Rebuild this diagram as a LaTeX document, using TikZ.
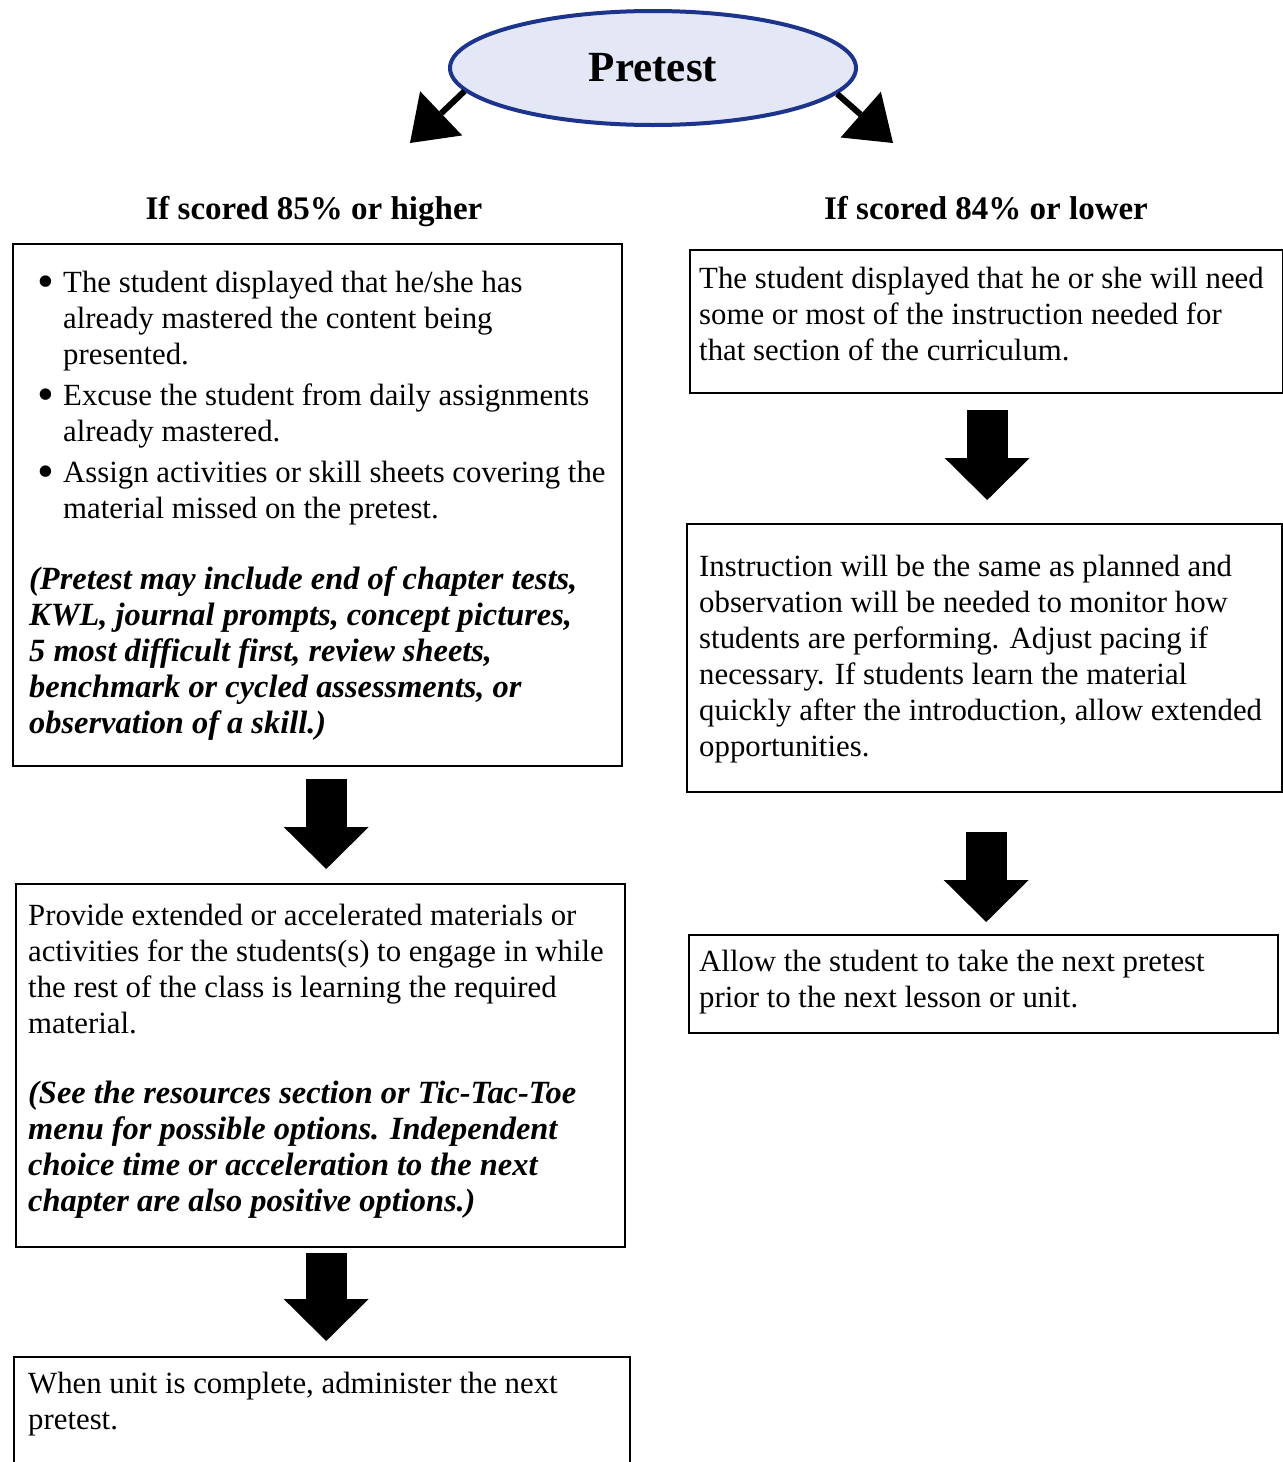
\documentclass[tikz,border=0pt]{standalone}
\usepackage{fontspec}
\setmainfont{Liberation Serif}
\usetikzlibrary{arrows.meta,shapes.geometric,calc}
\definecolor{ellfill}{RGB}{228,231,245}
\definecolor{elldraw}{RGB}{28,52,140}
\newcommand\boxtxt[4]{\parbox[c][#2][t]{#1}{\setlength{\parindent}{0pt}\vspace*{#3}#4}}
\newcommand\bul{\noindent\strut\llap{\raisebox{-2.6pt}{\fontsize{24}{18}\selectfont\textbullet}\hspace{4.5pt}}}
\begin{document}
\begin{tikzpicture}[x=0.5pt,y=-0.5pt,
  panel/.style={draw, line width=1.2pt, inner ysep=0pt, anchor=north west, align=left,
    font=\fontsize{15.4}{18}\selectfont},
  heading/.style={font=\fontsize{16.5}{20}\selectfont\bfseries, inner sep=0pt, anchor=base},
  blockarrow/.style={line width=20.5pt, -{Triangle[length=21pt,width=42.5pt,line width=0pt]}},
  thinarrow/.style={line width=3pt, -{Triangle[length=21.5pt,width=30.5pt,line width=0pt]}}]
\clip (0,0) rectangle (1283,1462);
\fill[white] (0,0) rectangle (1283,1462);

% top ellipse
\node[ellipse, draw=elldraw, fill=ellfill, line width=2pt, minimum width=203pt, minimum height=57pt, inner sep=0pt,
  font=\fontsize{21.5}{24}\selectfont\bfseries] (pre) at (653,68) {Pretest};
\coordinate (ltip) at (410,143);
\coordinate (rtip) at (893,143);
\draw[thinarrow] (pre.187) -- (ltip);
\draw[thinarrow] (pre.352) -- (rtip);

% headings
\node[heading] (hl) at (314,219) {If scored 85\% or higher};
\node[heading] (hr) at (986,219) {If scored 84\% or lower};

% left column
\node[panel, inner xsep=8pt] (L1) at (12,243) {\boxtxt{288.5pt}{261pt}{11.4pt}{%
{\leftskip=17pt
\bul The student displayed that he/she has\\
already mastered the content being\\
presented.\par}
\vspace{2.5pt}
{\leftskip=17pt
\bul Excuse the student from daily assignments\\
already mastered.\par}
\vspace{2.5pt}
{\leftskip=17pt
\bul Assign activities or skill sheets covering the\\
material missed on the pretest.\par}
\vspace{17.5pt}
{\fontsize{16.2}{18}\selectfont\bfseries\itshape\noindent
(Pretest may include end of chapter tests,\\
KWL, journal prompts, concept pictures,\\
5 most difficult first, review sheets,\\
benchmark or cycled assessments, or\\
observation of a skill.)\par}}};

\node[panel, inner xsep=6pt] (L2) at (15,883) {\boxtxt{292.5pt}{181.5pt}{7.9pt}{%
\noindent\strut Provide extended or accelerated materials or\\
activities for the students(s) to engage in while\\
the rest of the class is learning the required\\
material.\par
\vspace{17pt}
{\fontsize{16.2}{18}\selectfont\bfseries\itshape\noindent
(See the resources section or Tic-Tac-Toe\\
menu for possible options. Independent\\
choice time or acceleration to the next\\
chapter are also positive options.)\par}}};

\node[panel, inner xsep=7pt] (L3) at (13,1356) {\boxtxt{294pt}{62pt}{5.4pt}{%
\noindent\strut When unit is complete, administer the next\\
pretest.\par}};

% right column
\node[panel, inner xsep=4.5pt] (R1) at (689,249) {\boxtxt{287.5pt}{71.5pt}{6.4pt}{%
\noindent\strut The student displayed that he or she will need\\
some or most of the instruction needed for\\
that section of the curriculum.\par}};

\node[panel, inner xsep=6pt] (R2) at (686,523) {\boxtxt{285.5pt}{134pt}{13.4pt}{%
\noindent\strut Instruction will be the same as planned and\\
observation will be needed to monitor how\\
students are performing. Adjust pacing if\\
necessary. If students learn the material\\
quickly after the introduction, allow extended\\
opportunities.\par}};

\node[panel, inner xsep=5pt] (R3) at (688,934) {\boxtxt{284.5pt}{49pt}{5.4pt}{%
\noindent\strut Allow the student to take the next pretest\\
prior to the next lesson or unit.\par}};

% block arrows
\path (L1.south) ++(8.5,12) coordinate (a1s);
\path (a1s |- L2.north) ++(0,-14) coordinate (a1e);
\draw[blockarrow] (a1s) -- (a1e);

\path (L2.south) ++(5.5,5) coordinate (a2s);
\path (a2s |- L3.north) ++(0,-15) coordinate (a2e);
\draw[blockarrow] (a2s) -- (a2e);

\path (R1.south) ++(0.5,16) coordinate (a3s);
\path (a3s |- R2.north) ++(0,-23) coordinate (a3e);
\draw[blockarrow] (a3s) -- (a3e);

\path (R2.south) ++(1.5,39) coordinate (a4s);
\path (a4s |- R3.north) ++(0,-12) coordinate (a4e);
\draw[blockarrow] (a4s) -- (a4e);
\end{tikzpicture}
\end{document}
